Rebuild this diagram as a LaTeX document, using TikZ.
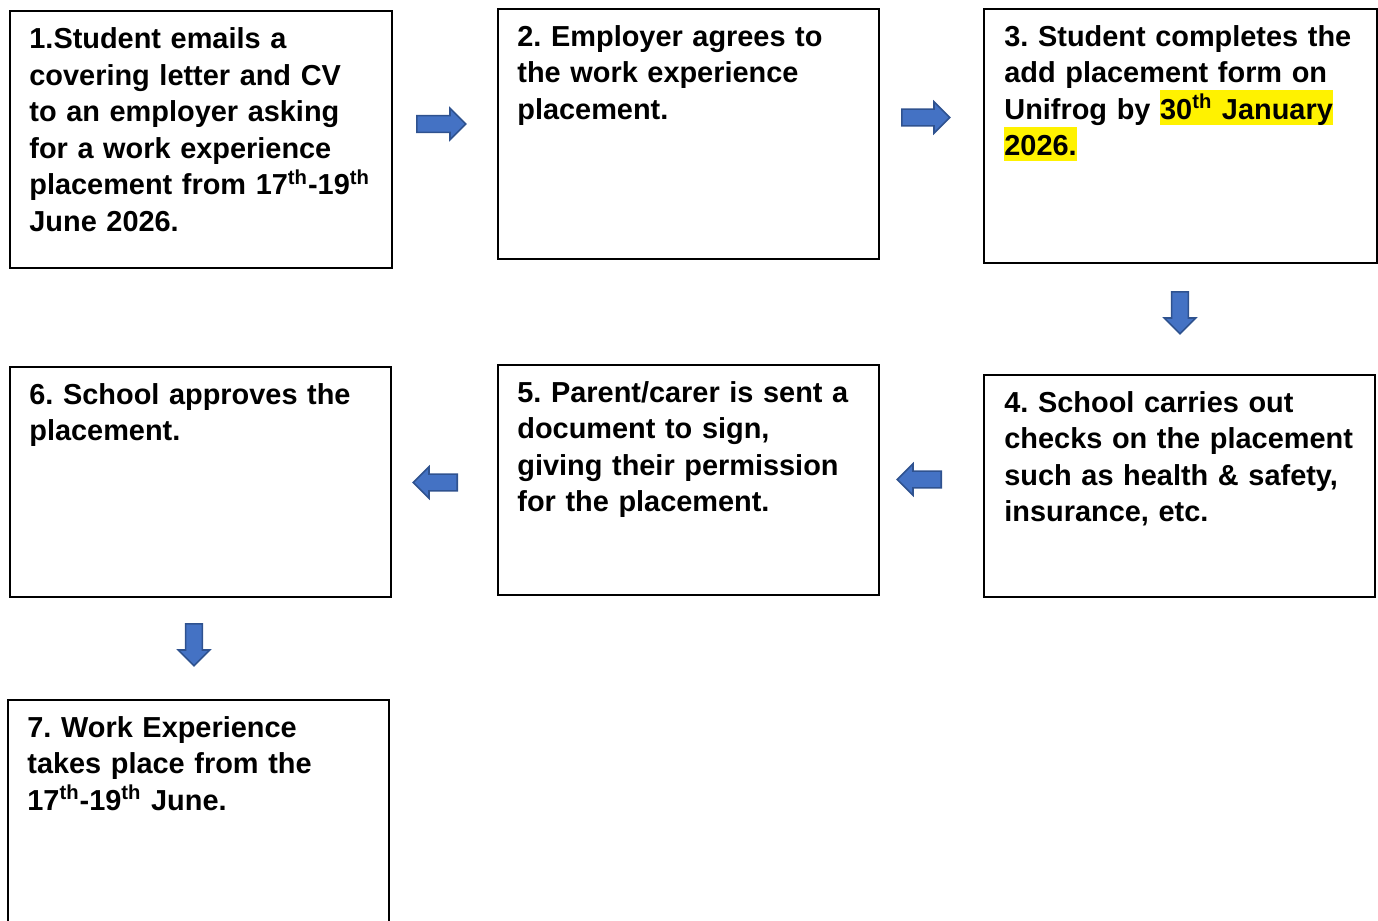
\documentclass[tikz,border=0pt]{standalone}
\usepackage{fontspec}
\setmainfont{Liberation Sans}
\usepackage{xcolor}
\usetikzlibrary{shapes.arrows}
\definecolor{arrowfill}{HTML}{4472C4}
\definecolor{arrowline}{HTML}{2F528F}
\newcommand{\hlite}[1]{{\setlength{\fboxsep}{0pt}\colorbox{yellow}{\rule[-2.5pt]{0pt}{17pt}#1}}}
\frenchspacing

\tikzset{
  stepbox/.style={draw=black,line width=1pt,anchor=north west,inner sep=0pt},
  steptext/.style={anchor=north west,inner sep=0pt,text width=200pt,align=left,
    font=\fontsize{14.45}{18.25}\selectfont\bfseries},
  blockarrow/.style={single arrow,draw=arrowline,fill=arrowfill,line width=0.8pt,
    anchor=tail,inner xsep=0pt,inner ysep=3.8pt,single arrow head extend=3.7pt}
}

\begin{document}
\begin{tikzpicture}[x=0.5pt,y=-0.5pt]
\useasboundingbox (0,0) rectangle (1378,921);

% boxes, top row
\node[stepbox,minimum width=191pt,minimum height=128.5pt] (s1) at (9,10) {};
\node[stepbox,minimum width=190.5pt,minimum height=125pt] (s2) at (497,8) {};
\node[stepbox,minimum width=196.5pt,minimum height=127pt] (s3) at (983,8) {};
% boxes, middle row
\node[stepbox,minimum width=195.5pt,minimum height=111pt] (s4) at (983,374) {};
\node[stepbox,minimum width=190.5pt,minimum height=115pt] (s5) at (497,364) {};
\node[stepbox,minimum width=190.5pt,minimum height=115pt] (s6) at (9,366) {};
% last box runs off the page
\node[stepbox,minimum width=190.5pt,minimum height=125pt] (s7) at (7,699) {};

% texts
\node[steptext] (t1) at (29,27.5) {1.Student emails a\\ covering letter and CV\\ to an employer asking\\ for a work experience\\ placement from 17\textsuperscript{th}-19\textsuperscript{th}\\ June 2026.};
\node[steptext] (t2) at (517,25) {2. Employer agrees to\\ the work experience\\ placement.};
\node[steptext] (t3) at (1004,25) {3. Student completes the\\ add placement form on\\ Unifrog by \hlite{30\textsuperscript{th} January}\\ \hlite{2026.}};
\node[steptext] (t4) at (1004,391) {4. School carries out\\ checks on the placement\\ such as health \& safety,\\ insurance, etc.};
\node[steptext] (t5) at (517,381) {5. Parent/carer is sent a\\ document to sign,\\ giving their permission\\ for the placement.};
\node[steptext] (t6) at (29,383) {6. School approves the\\ placement.};
\node[steptext] (t7) at (27,716) {7. Work Experience\\ takes place from the\\ 17\textsuperscript{th}-19\textsuperscript{th} June.};

% block arrows, placed by their tails
\node[blockarrow,minimum height=24.5pt] (a12) at (416,124) {};
\node[blockarrow,minimum height=24pt] (a23) at (901,117.5) {};
\node[blockarrow,minimum height=21pt,rotate=-90] (a34) at (1180,291) {};
\node[blockarrow,minimum height=22pt,rotate=180] (a45) at (942,479.5) {};
\node[blockarrow,minimum height=22pt,rotate=180] (a56) at (458,482.5) {};
\node[blockarrow,minimum height=21pt,rotate=-90] (a67) at (194,623) {};
\end{tikzpicture}
\end{document}
